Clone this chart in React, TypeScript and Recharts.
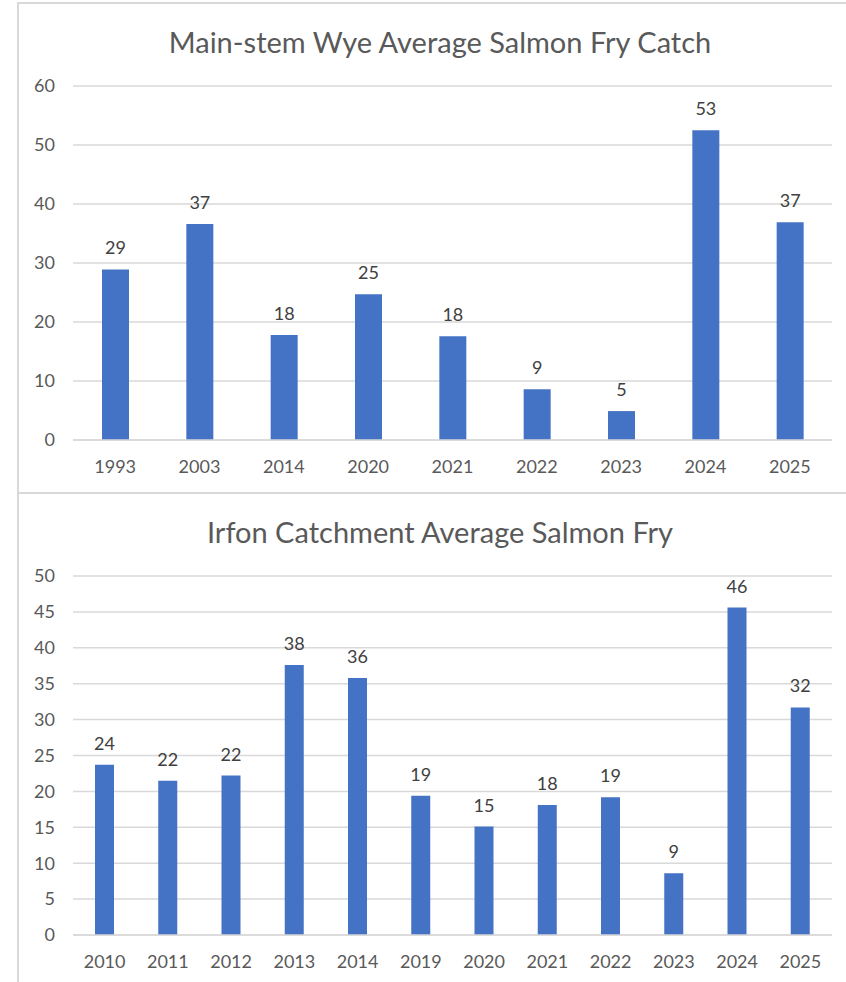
import { Bar, BarChart, CartesianGrid, LabelList, XAxis, YAxis } from "recharts";

const wyeYears = ["1993", "2003", "2014", "2020", "2021", "2022", "2023", "2024", "2025"];
const wyeCatch = [28.9, 36.6, 17.8, 24.7, 17.6, 8.6, 4.9, 52.5, 36.9];
const wyeTicks = [0, 10, 20, 30, 40, 50, 60];

const irfonYears = ["2010", "2011", "2012", "2013", "2014", "2019", "2020", "2021", "2022", "2023", "2024", "2025"];
const irfonCatch = [23.7, 21.5, 22.2, 37.6, 35.8, 19.4, 15.1, 18.1, 19.2, 8.6, 45.6, 31.7];
const irfonTicks = [0, 5, 10, 15, 20, 25, 30, 35, 40, 45, 50];

const FONT = "Lato, 'Open Sans', sans-serif";
const BLUE = "#4472C4";
const GRID = "#d9d9d9";

interface PanelProps {
  title: string;
  years: string[];
  values: number[];
  ticks: number[];
  top: number;
  barSize: number;
  marginTop: number;
  marginBottom: number;
}

const Panel = ({ title, years, values, ticks, top, barSize, marginTop, marginBottom }: PanelProps) => {
  const data = years.map((year, i) => ({ year, value: values[i] }));
  const max = ticks[ticks.length - 1];

  return (
    <div
      style={{
        position: "absolute",
        left: 17,
        top,
        width: 880,
        height: 520,
        border: `2px solid ${GRID}`,
        boxSizing: "border-box",
        background: "#fff",
      }}
    >
      <div
        style={{
          position: "absolute",
          left: 0,
          width: 842,
          top: 20,
          textAlign: "center",
          fontFamily: FONT,
          fontSize: 29,
          color: "#595959",
          whiteSpace: "nowrap",
        }}
      >
        {title}
      </div>
      <div style={{ position: "absolute", left: -19, top: -2 }}>
        <BarChart
          width={846}
          height={490}
          data={data}
          margin={{ top: marginTop, right: 14, left: 0, bottom: marginBottom }}
        >
          <CartesianGrid vertical={false} stroke={GRID} strokeWidth={1.5} />
          <XAxis
            dataKey="year"
            axisLine={{ stroke: GRID, strokeWidth: 1.5 }}
            tickLine={false}
            tickMargin={14}
            height={30}
            interval={0}
            tick={{ fill: "#595959", fontSize: 18, fontFamily: FONT }}
          />
          <YAxis
            width={73}
            domain={[0, max]}
            ticks={ticks}
            axisLine={false}
            tickLine={false}
            tickMargin={12}
            tick={{ fill: "#595959", fontSize: 18, fontFamily: FONT }}
          />
          <Bar dataKey="value" fill={BLUE} barSize={barSize} isAnimationActive={false}>
            <LabelList
              dataKey="value"
              position="top"
              offset={15}
              formatter={(v: number) => Math.round(v)}
              style={{ fill: "#404040", fontSize: 18, fontFamily: FONT }}
            />
          </Bar>
        </BarChart>
      </div>
    </div>
  );
};

const App = () => (
  <div style={{ position: "absolute", left: 0, top: 0, width: 846, height: 982, overflow: "hidden", background: "#fff" }}>
    <Panel
      title="Main-stem Wye Average Salmon Fry Catch"
      years={wyeYears}
      values={wyeCatch}
      ticks={wyeTicks}
      top={2}
      barSize={27}
      marginTop={84}
      marginBottom={22}
    />
    <Panel
      title="Irfon Catchment Average Salmon Fry"
      years={irfonYears}
      values={irfonCatch}
      ticks={irfonTicks}
      top={492}
      barSize={19}
      marginTop={84}
      marginBottom={17}
    />
  </div>
);

export default App;
